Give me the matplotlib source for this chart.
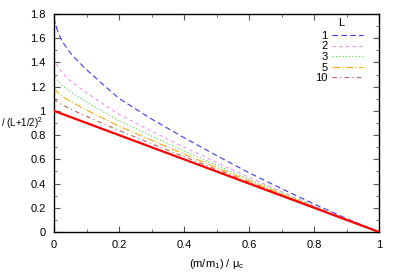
import numpy as np
import matplotlib
matplotlib.use("Agg")
import matplotlib.pyplot as plt

plt.rcParams['font.family'] = ['Liberation Sans', 'DejaVu Sans']
plt.rcParams['mathtext.fontset'] = 'custom'
plt.rcParams['mathtext.rm'] = 'Liberation Sans'
plt.rcParams['mathtext.it'] = 'Liberation Sans'

# x = (m/m1)/mu_c
x = [0, 0.005, 0.01, 0.025, 0.05, 0.075, 0.1, 0.15, 0.2, 0.3, 0.4, 0.5, 0.6, 0.7, 0.8, 0.9, 1.0]
L_labels = ['1', '2', '3', '5', '10']
y_L1 = [1.765, 1.71, 1.667, 1.574, 1.479, 1.407, 1.340, 1.220, 1.103, 0.933, 0.779, 0.632, 0.489, 0.358, 0.231, 0.112, 0]
y_L2 = [1.44, 1.405, 1.373, 1.314, 1.249, 1.198, 1.149, 1.059, 0.972, 0.832, 0.701, 0.575, 0.451, 0.333, 0.218, 0.107, 0]
y_L3 = [1.306, 1.28, 1.256, 1.211, 1.158, 1.115, 1.073, 0.995, 0.919, 0.792, 0.670, 0.552, 0.435, 0.323, 0.212, 0.105, 0]
y_L5 = [1.19, 1.172, 1.155, 1.121, 1.079, 1.043, 1.007, 0.940, 0.874, 0.757, 0.644, 0.532, 0.422, 0.314, 0.208, 0.103, 0]
y_L10 = [1.0975, 1.086, 1.075, 1.05, 1.016, 0.985, 0.955, 0.896, 0.838, 0.729, 0.622, 0.517, 0.411, 0.307, 0.204, 0.101, 0]
x_lim = [0, 1]
y_lim = [1, 0]  # limiting straight line

colors = ['#3c3cf0', '#f090f0', '#40dd40', '#ffaa11', '#c06060']
dashes = [(5, 3), (3, 3), (1, 2), (7, 2, 1, 2), (4, 3, 1, 3)]

fig = plt.figure(figsize=(3.99, 2.79), dpi=100)
ax = fig.add_axes([54/399, 1-232/279, 325/399, 218/279])

series = [y_L1, y_L2, y_L3, y_L5, y_L10]
for ys, c, d, lab in zip(series, colors, dashes, L_labels):
    ax.plot(x, ys, color=c, lw=0.8, dashes=d, label=lab)
ax.plot(x_lim, y_lim, color='#ff0000', lw=1.6, zorder=5)

ax.set_xlim(0, 1)
ax.set_ylim(0, 1.8)
ax.set_xticks(np.arange(0, 1.01, 0.2))
ax.set_xticklabels(['0', '0.2', '0.4', '0.6', '0.8', '1'])
ax.set_yticks(np.arange(0, 1.81, 0.2))
ax.set_yticklabels(['0', '0.2', '0.4', '0.6', '0.8', '1', '1.2', '1.4', '1.6', '1.8'])
ax.set_xticks(np.arange(0, 1.01, 0.1), minor=True)
ax.set_yticks(np.arange(0, 1.81, 0.1), minor=True)
ax.tick_params(which='both', direction='in', top=True, right=True, color='#555555', labelsize=8)
ax.tick_params(which='major', length=4, pad=6)
ax.tick_params(which='minor', length=2)
for s in ax.spines.values():
    s.set_linewidth(1.0)

ax.set_xlabel('(m/m$_1$) / $\\mu_c$', fontsize=8, labelpad=5)
fig.text(0.002, 1-123.5/279, '/ (L+1/2)$^2$', fontsize=7, ha='left', va='center')

leg = ax.legend(loc='upper right', bbox_to_anchor=(0.965, 0.943), frameon=False,
                fontsize=8, handlelength=2.8, handletextpad=0.4,
                labelspacing=0.05, markerfirst=False, borderaxespad=0)
for t in leg.get_texts():
    t.set_ha('right')
fig.text(341/399, 1-23.5/279, 'L', fontsize=8, ha='center', va='center')

fig.savefig('out.png', dpi=100)
